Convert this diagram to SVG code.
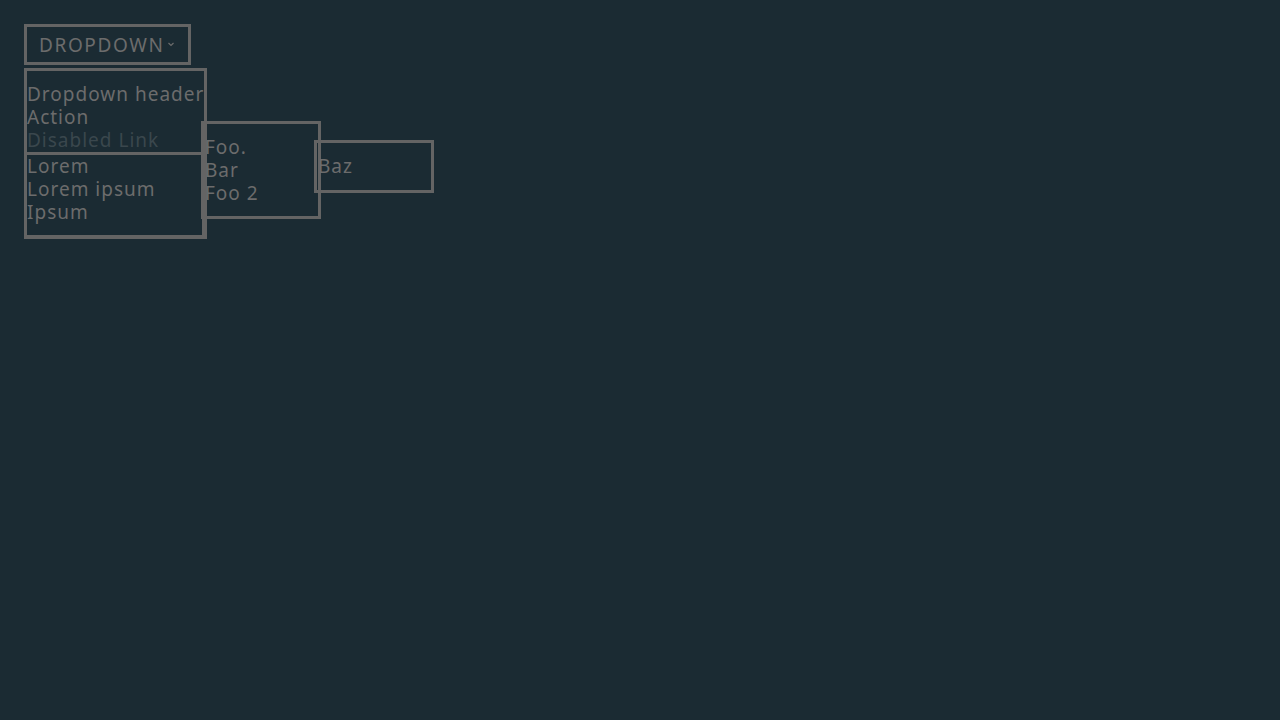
<svg xmlns="http://www.w3.org/2000/svg" width="1280" height="720" viewBox="0 0 1280 720">
<style>
.box{fill:none;stroke:#646464;stroke-width:3}
.t{font-family:"Noto Sans","Liberation Sans",sans-serif;font-size:19px;fill:#6c6c6c;letter-spacing:1px}
.d{fill:#3a474d}
.btn{font-family:"Noto Sans","Liberation Sans",sans-serif;font-size:19px;fill:#6c6c6c;letter-spacing:1.6px}
</style>
<rect width="1280" height="720" fill="#1b2b33"/>
<g id="dropdown-button">
<rect class="box" x="25.5" y="25.5" width="164" height="38"/>
<text class="btn" x="39" y="51.5">DROPDOWN</text>
<path d="M168.5 43 L171 45.5 L173.5 43" fill="none" stroke="#6c6c6c" stroke-width="1.2"/>
</g>
<g id="dropdown-menu">
<rect class="box" x="25.5" y="69.5" width="180" height="168"/>
<text class="t" x="27" y="101">Dropdown header</text>
<text class="t" x="27" y="124">Action</text>
<text class="t d" x="27" y="147">Disabled Link</text>
</g>
<g id="lorem-group">
<rect class="box" x="25.5" y="153.5" width="178" height="83"/>
<text class="t" x="27" y="173">Lorem</text>
<text class="t" x="27" y="196">Lorem ipsum</text>
<text class="t" x="27" y="219">Ipsum</text>
</g>
<g id="submenu-foo">
<rect class="box" x="202.5" y="122.5" width="117" height="95"/>
<text class="t" x="205" y="154">Foo.</text>
<text class="t" x="205" y="177">Bar</text>
<text class="t" x="205" y="200">Foo 2</text>
</g>
<g id="submenu-baz">
<rect class="box" x="315.5" y="141.5" width="117" height="50"/>
<text class="t" x="318" y="173">Baz</text>
</g>
<g id="connectors"/>
</svg>
